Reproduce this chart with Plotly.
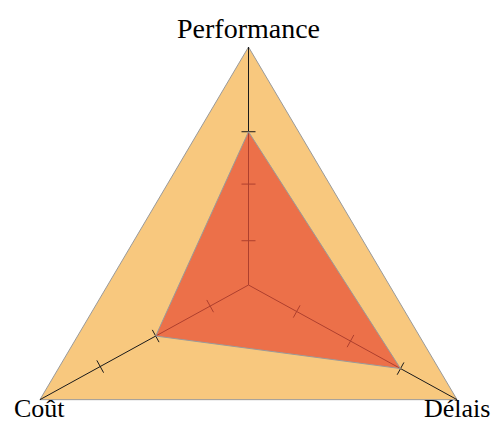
import math
import plotly.graph_objects as go

# ---- data ----
categories = ["Performance", "Coût", "Délais"]
axis_max = [100, 100, 100]
values = [64.4, 44.5, 72.9]
ticks_performance = [18.6, 42.4, 64.4]
ticks_cout = [18.4, 44.5, 71.1]
ticks_delais = [23.1, 48.9, 72.9]

# ---- layout / geometry settings ----
angles_deg = [90.0, 208.8, 331.2]
px_per_unit = 2.38
center_px = (248.5, 285.0)
W, H = 496, 423
tick_half_px = 7.0

ORANGE = "#F8C87E"
RED = "rgba(232,78,53,0.72)"
BORDER = "#9a9a9a"

def pt(r, ang):
    a = math.radians(ang)
    return r * math.cos(a), r * math.sin(a)

fig = go.Figure()

# outer polygon
ox, oy = zip(*[pt(r, a) for r, a in zip(axis_max, angles_deg)])
fig.add_trace(go.Scatter(x=list(ox) + [ox[0]], y=list(oy) + [oy[0]], mode="lines",
                         fill="toself", fillcolor=ORANGE,
                         line=dict(color=BORDER, width=1), hoverinfo="skip"))

# axes
for r, a in zip(axis_max, angles_deg):
    x1, y1 = pt(r, a)
    fig.add_trace(go.Scatter(x=[0, x1], y=[0, y1], mode="lines",
                             line=dict(color="#1a1a1a", width=1), hoverinfo="skip"))

# ticks
half = tick_half_px / px_per_unit
for tks, a in zip([ticks_performance, ticks_cout, ticks_delais], angles_deg):
    rad = math.radians(a)
    px_, py_ = -math.sin(rad), math.cos(rad)
    for t in tks:
        cx, cy = pt(t, a)
        fig.add_trace(go.Scatter(x=[cx - half * px_, cx + half * px_],
                                 y=[cy - half * py_, cy + half * py_], mode="lines",
                                 line=dict(color="#1a1a1a", width=1), hoverinfo="skip"))

# data polygon
vx, vy = zip(*[pt(r, a) for r, a in zip(values, angles_deg)])
fig.add_trace(go.Scatter(x=list(vx) + [vx[0]], y=list(vy) + [vy[0]], mode="lines",
                         fill="toself", fillcolor=RED,
                         line=dict(color=BORDER, width=1), hoverinfo="skip"))

# labels
anchors = [("bottom", 1, 28), ("top", 8, 26), ("top", 8, 26)]
for cat, r, a, (ya, ys, fs) in zip(categories, axis_max, angles_deg, anchors):
    x1, y1 = pt(r, a)
    fig.add_annotation(x=x1, y=y1, xref="x", yref="y", text=cat, showarrow=False,
                       xanchor="center", yanchor=ya, yshift=ys,
                       font=dict(family="Liberation Serif", size=fs, color="black"))

x0 = -center_px[0] / px_per_unit
x1 = (W - center_px[0]) / px_per_unit
y1 = center_px[1] / px_per_unit
y0 = -(H - center_px[1]) / px_per_unit

fig.update_layout(width=W, height=H, margin=dict(l=0, r=0, t=0, b=0),
                  paper_bgcolor="white", plot_bgcolor="white", showlegend=False,
                  xaxis=dict(visible=False, range=[x0, x1], fixedrange=True),
                  yaxis=dict(visible=False, range=[y0, y1], fixedrange=True))

fig.write_html("out.html", config={"displayModeBar": False},
               post_script="document.body.style.margin='0px';document.body.style.overflow='hidden';")
